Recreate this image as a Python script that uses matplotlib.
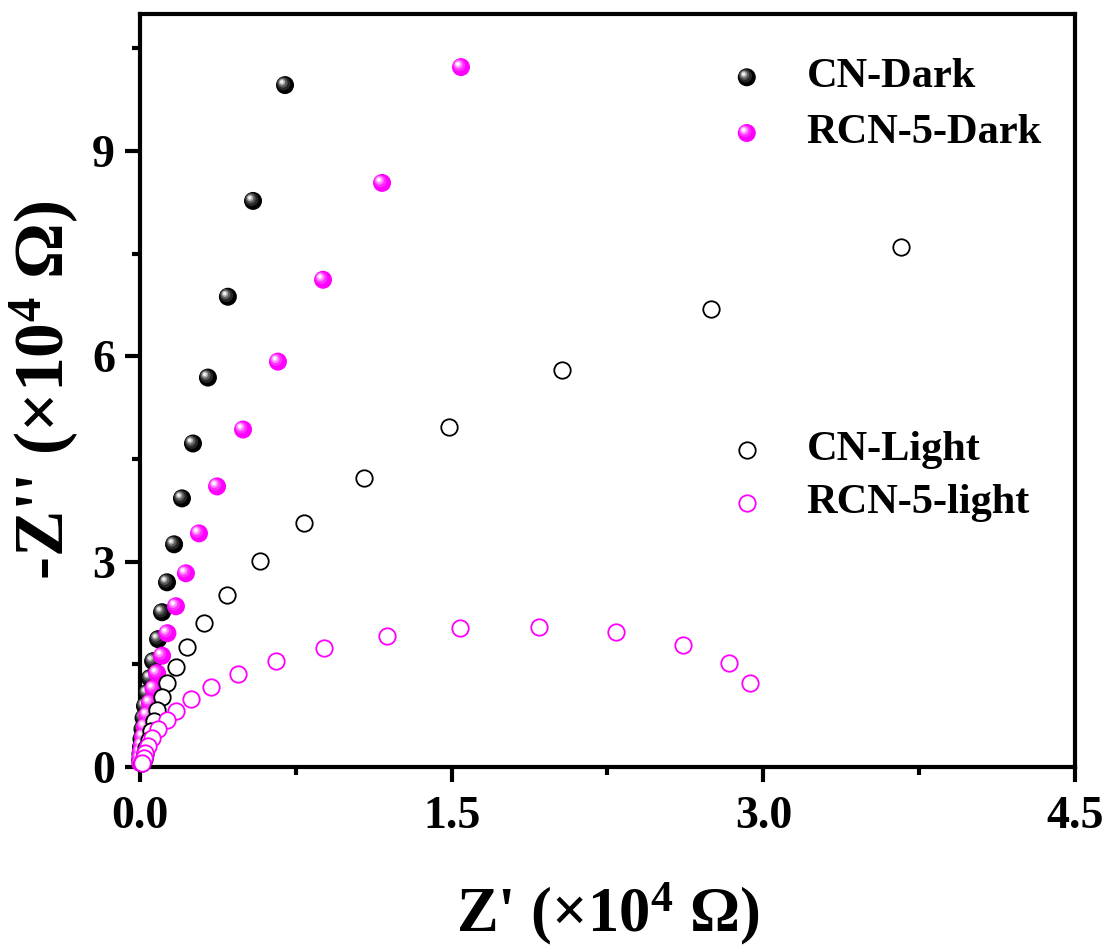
import matplotlib
matplotlib.use("Agg")
import matplotlib.pyplot as plt
import matplotlib.transforms as mtransforms
from matplotlib.ticker import MultipleLocator, FormatStrFormatter

# Nyquist data, Z' and -Z'' in units of 1e4 ohm
cn_dark_x = [0.698, 0.544, 0.423, 0.327, 0.255, 0.202, 0.164, 0.130, 0.106, 0.087,
             0.063, 0.048, 0.034, 0.024, 0.017, 0.012, 0.007, 0.005, 0.002, 0.001]
cn_dark_y = [9.962, 8.270, 6.870, 5.689, 4.726, 3.924, 3.253, 2.698, 2.261, 1.867,
             1.546, 1.298, 1.079, 0.890, 0.715, 0.554, 0.408, 0.292, 0.190, 0.102]

rcn_dark_x = [1.545, 1.165, 0.881, 0.664, 0.496, 0.371, 0.284, 0.221, 0.173, 0.132,
              0.106, 0.082, 0.065, 0.048, 0.035, 0.024, 0.016, 0.010, 0.005, 0.002, 0.001]
rcn_dark_y = [10.225, 8.533, 7.118, 5.922, 4.930, 4.099, 3.413, 2.830, 2.348, 1.954,
              1.626, 1.371, 1.145, 0.938, 0.758, 0.588, 0.442, 0.321, 0.219, 0.131, 0.058]

cn_light_x = [3.662, 2.748, 2.031, 1.487, 1.078, 0.789, 0.577, 0.419, 0.308, 0.226,
              0.171, 0.132, 0.108, 0.084, 0.067, 0.053, 0.041, 0.031, 0.024, 0.017, 0.010]
cn_light_y = [7.599, 6.695, 5.805, 4.974, 4.215, 3.559, 3.005, 2.509, 2.100, 1.750,
              1.458, 1.225, 1.021, 0.831, 0.671, 0.525, 0.394, 0.277, 0.190, 0.117, 0.058]

rcn_light_x = [2.938, 2.834, 2.613, 2.291, 1.920, 1.540, 1.189, 0.885, 0.654, 0.474,
               0.342, 0.245, 0.173, 0.128, 0.089, 0.060, 0.038, 0.026, 0.017, 0.010]
rcn_light_y = [1.221, 1.517, 1.779, 1.969, 2.042, 2.028, 1.911, 1.736, 1.546, 1.356,
               1.167, 0.992, 0.817, 0.686, 0.562, 0.430, 0.306, 0.204, 0.124, 0.058]

PINK = "#ff00ff"

plt.rcParams["font.family"] = ["Liberation Serif", "DejaVu Serif"]
plt.rcParams["font.weight"] = "bold"
plt.rcParams["mathtext.fontset"] = "custom"
plt.rcParams["mathtext.rm"] = "Liberation Serif:bold"
plt.rcParams["mathtext.bf"] = "Liberation Serif:bold"
plt.rcParams["mathtext.it"] = "Liberation Serif:italic:bold"

fig = plt.figure(figsize=(11.12, 9.49), dpi=100)
ax = fig.add_axes([0.1259, 0.1918, 0.8408, 0.7934])

# shading layers for the "ball" markers: (size fraction, colour, offset in pt)
black_shades = [(0.55, "#262626", 1.0), (0.30, "#5a5a5a", 1.7),
                (0.13, "#a8a8a8", 2.1), (0.04, "#f0f0f0", 2.3)]
pink_shades = [(0.45, "#ff30ff", 1.3), (0.22, "#ff80ff", 1.9),
               (0.09, "#ffc8ff", 2.2), (0.03, "#ffffff", 2.3)]


def balls(x, y, base, shades, size, transform, z):
    ax.scatter(x, y, s=size, c=base, edgecolors="none", transform=transform,
               zorder=z, clip_on=False)
    for i, (frac, col, off) in enumerate(shades):
        tr = mtransforms.offset_copy(transform, fig=fig, x=-off, y=off, units="points")
        ax.scatter(x, y, s=size * frac, c=col, edgecolors="none", transform=tr,
                   zorder=z + 0.01 * (i + 1), clip_on=False)


def rings(x, y, color, size, transform, z):
    ax.scatter(x, y, s=size, facecolors="white", edgecolors=color, linewidths=1.3,
               transform=transform, zorder=z, clip_on=False)


BALL = 168
RING = 140

balls(cn_dark_x, cn_dark_y, "black", black_shades, BALL, ax.transData, 3.0)
balls(rcn_dark_x, rcn_dark_y, PINK, pink_shades, BALL, ax.transData, 3.1)
rings(cn_light_x, cn_light_y, "black", RING, ax.transData, 3.2)
rings(rcn_light_x, rcn_light_y, PINK, RING, ax.transData, 3.3)

# legend entries
lx, tx = 0.649, 0.713
balls([lx], [0.916], "black", black_shades, BALL, ax.transAxes, 4.0)
balls([lx], [0.842], PINK, pink_shades, BALL, ax.transAxes, 4.0)
rings([lx], [0.421], "black", RING, ax.transAxes, 4.0)
rings([lx], [0.351], PINK, RING, ax.transAxes, 4.0)
for yy, name in [(0.916, "CN-Dark"), (0.842, "RCN-5-Dark"),
                 (0.421, "CN-Light"), (0.351, "RCN-5-light")]:
    ax.text(tx, yy, name, transform=ax.transAxes, fontsize=30.5, fontweight="bold",
            va="center", ha="left")

ax.set_xlim(0, 4.5)
ax.set_ylim(0, 11)
ax.xaxis.set_major_locator(MultipleLocator(1.5))
ax.xaxis.set_minor_locator(MultipleLocator(0.75))
ax.yaxis.set_major_locator(MultipleLocator(3))
ax.yaxis.set_minor_locator(MultipleLocator(1.5))
ax.xaxis.set_major_formatter(FormatStrFormatter("%.1f"))
ax.yaxis.set_major_formatter(FormatStrFormatter("%d"))

for s in ax.spines.values():
    s.set_linewidth(3)
ax.tick_params(which="major", direction="out", length=11, width=3, labelsize=33)
ax.tick_params(axis="x", which="major", pad=10)
ax.tick_params(axis="y", which="major", pad=7)
ax.tick_params(which="minor", direction="out", length=6, width=3)
ax.tick_params(top=False, right=False, which="both")

ax.set_xlabel("Z' (\u00d710$^{\\mathbf{4}}$ \u03a9)", fontsize=45, fontweight="bold", labelpad=30)
ax.set_ylabel("-Z'' (\u00d710$^{\\mathbf{4}}$ \u03a9)", fontsize=50, fontweight="bold", labelpad=8)

fig.savefig("out.png", dpi=100)
